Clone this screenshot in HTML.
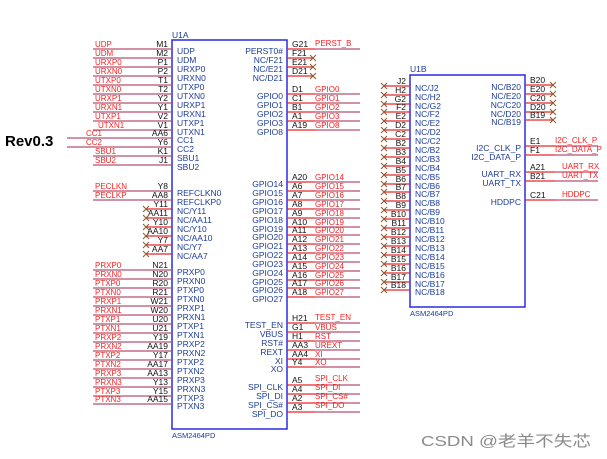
<!DOCTYPE html>
<html><head><meta charset="utf-8"><style>
html,body{margin:0;padding:0;background:#fff;}
svg{display:block;font-family:"Liberation Sans","Noto Sans CJK SC",sans-serif;}
.p{font-size:8.5px;fill:#111;}
.pe{font-size:8.5px;fill:#111;text-anchor:end;}
.i{font-size:8.5px;fill:#1c3c9c;}
.ie{font-size:8.5px;fill:#1c3c9c;text-anchor:end;}
.n{font-size:8px;fill:#ff2020;}
.wl{stroke:#b5506e;stroke-width:1.2;}
.wr{stroke:#e8262a;stroke-width:1.2;}
.x{stroke:#8b5a2b;stroke-width:1;}
.box{fill:none;stroke:#2a2ae0;stroke-width:1.5;}
</style></head><body>
<svg width="607" height="459" viewBox="0 0 607 459" xmlns="http://www.w3.org/2000/svg">
<rect width="607" height="459" fill="#fff"/>
<text x="5" y="146" style="font-size:15px;font-weight:bold;fill:#000">Rev0.3</text>

<!-- U1A -->
<text x="172" y="38" class="i" style="fill:#1c3c9c">U1A</text>
<rect x="172" y="40" width="115" height="389" class="box"/>
<text x="172" y="438" class="i" style="font-size:7.5px">ASM2464PD</text>

<!-- U1A left group 1 -->
<g>
<line x1="93" y1="49" x2="172" y2="49" class="wl"/><text x="95" y="47" class="n">UDP</text><text x="168" y="47" class="pe">M1</text><text x="177" y="54" class="i">UDP</text>
<line x1="93" y1="58" x2="172" y2="58" class="wl"/><text x="95" y="56" class="n">UDM</text><text x="168" y="56" class="pe">M2</text><text x="177" y="63" class="i">UDM</text>
<line x1="93" y1="67" x2="172" y2="67" class="wl"/><text x="95" y="65" class="n">URXP0</text><text x="168" y="65" class="pe">P1</text><text x="177" y="72" class="i">URXP0</text>
<line x1="93" y1="76" x2="172" y2="76" class="wl"/><text x="95" y="74" class="n">URXN0</text><text x="168" y="74" class="pe">P2</text><text x="177" y="81" class="i">URXN0</text>
<line x1="93" y1="85" x2="172" y2="85" class="wl"/><text x="95" y="83" class="n">UTXP0</text><text x="168" y="83" class="pe">T1</text><text x="177" y="90" class="i">UTXP0</text>
<line x1="93" y1="94" x2="172" y2="94" class="wl"/><text x="95" y="92" class="n">UTXN0</text><text x="168" y="92" class="pe">T2</text><text x="177" y="99" class="i">UTXN0</text>
<line x1="93" y1="103" x2="172" y2="103" class="wl"/><text x="95" y="101" class="n">URXP1</text><text x="168" y="101" class="pe">Y2</text><text x="177" y="108" class="i">URXP1</text>
<line x1="93" y1="112" x2="172" y2="112" class="wl"/><text x="95" y="110" class="n">URXN1</text><text x="168" y="110" class="pe">Y1</text><text x="177" y="117" class="i">URXN1</text>
<line x1="93" y1="121" x2="172" y2="121" class="wl"/><text x="95" y="119" class="n">UTXP1</text><text x="168" y="119" class="pe">V2</text><text x="177" y="126" class="i">UTXP1</text>
<line x1="93" y1="130" x2="172" y2="130" class="wl"/><text x="98" y="128" class="n">UTXN1</text><text x="168" y="128" class="pe">V1</text><text x="177" y="135" class="i">UTXN1</text>
<line x1="67" y1="138" x2="172" y2="138" class="wl"/><text x="86" y="136" class="n">CC1</text><text x="168" y="136" class="pe">AA6</text><text x="177" y="143" class="i">CC1</text>
<line x1="67" y1="147" x2="172" y2="147" class="wl"/><text x="86" y="145" class="n">CC2</text><text x="168" y="145" class="pe">Y6</text><text x="177" y="152" class="i">CC2</text>
<line x1="93" y1="156" x2="172" y2="156" class="wl"/><text x="95" y="154" class="n">SBU1</text><text x="168" y="154" class="pe">K1</text><text x="177" y="161" class="i">SBU1</text>
<line x1="93" y1="165" x2="172" y2="165" class="wl"/><text x="95" y="163" class="n">SBU2</text><text x="168" y="163" class="pe">J1</text><text x="177" y="170" class="i">SBU2</text>
</g>

<!-- group 2 -->
<g>
<line x1="93" y1="191" x2="172" y2="191" class="wl"/><text x="95" y="189" class="n">PECLKN</text><text x="168" y="189" class="pe">Y8</text><text x="177" y="196" class="i">REFCLKN0</text>
<line x1="93" y1="200" x2="172" y2="200" class="wl"/><text x="95" y="198" class="n">PECLKP</text><text x="168" y="198" class="pe">AA8</text><text x="177" y="205" class="i">REFCLKP0</text>
<line x1="146" y1="209" x2="172" y2="209" class="wr"/><text x="168" y="207" class="pe">Y11</text><text x="177" y="214" class="i">NC/Y11</text><path d="M143 206l6 6M149 206l-6 6" class="x"/>
<line x1="146" y1="218" x2="172" y2="218" class="wr"/><text x="168" y="216" class="pe">AA11</text><text x="177" y="223" class="i">NC/AA11</text><path d="M143 215l6 6M149 215l-6 6" class="x"/>
<line x1="146" y1="227" x2="172" y2="227" class="wr"/><text x="168" y="225" class="pe">Y10</text><text x="177" y="232" class="i">NC/Y10</text><path d="M143 224l6 6M149 224l-6 6" class="x"/>
<line x1="146" y1="236" x2="172" y2="236" class="wr"/><text x="168" y="234" class="pe">AA10</text><text x="177" y="241" class="i">NC/AA10</text><path d="M143 233l6 6M149 233l-6 6" class="x"/>
<line x1="146" y1="245" x2="172" y2="245" class="wr"/><text x="168" y="243" class="pe">Y7</text><text x="177" y="250" class="i">NC/Y7</text><path d="M143 242l6 6M149 242l-6 6" class="x"/>
<line x1="146" y1="254" x2="172" y2="254" class="wr"/><text x="168" y="252" class="pe">AA7</text><text x="177" y="259" class="i">NC/AA7</text><path d="M143 251l6 6M149 251l-6 6" class="x"/>
</g>

<!-- group 3 -->
<g>
<line x1="93" y1="270" x2="172" y2="270" class="wl"/><text x="95" y="268" class="n">PRXP0</text><text x="168" y="268" class="pe">N21</text><text x="177" y="275" class="i">PRXP0</text>
<line x1="93" y1="279" x2="172" y2="279" class="wl"/><text x="95" y="277" class="n">PRXN0</text><text x="168" y="277" class="pe">N20</text><text x="177" y="284" class="i">PRXN0</text>
<line x1="93" y1="288" x2="172" y2="288" class="wl"/><text x="95" y="286" class="n">PTXP0</text><text x="168" y="286" class="pe">R20</text><text x="177" y="293" class="i">PTXP0</text>
<line x1="93" y1="297" x2="172" y2="297" class="wl"/><text x="95" y="295" class="n">PTXN0</text><text x="168" y="295" class="pe">R21</text><text x="177" y="302" class="i">PTXN0</text>
<line x1="93" y1="306" x2="172" y2="306" class="wl"/><text x="95" y="304" class="n">PRXP1</text><text x="168" y="304" class="pe">W21</text><text x="177" y="311" class="i">PRXP1</text>
<line x1="93" y1="315" x2="172" y2="315" class="wl"/><text x="95" y="313" class="n">PRXN1</text><text x="168" y="313" class="pe">W20</text><text x="177" y="320" class="i">PRXN1</text>
<line x1="93" y1="324" x2="172" y2="324" class="wl"/><text x="95" y="322" class="n">PTXP1</text><text x="168" y="322" class="pe">U20</text><text x="177" y="329" class="i">PTXP1</text>
<line x1="93" y1="333" x2="172" y2="333" class="wl"/><text x="95" y="331" class="n">PTXN1</text><text x="168" y="331" class="pe">U21</text><text x="177" y="338" class="i">PTXN1</text>
<line x1="93" y1="342" x2="172" y2="342" class="wl"/><text x="95" y="340" class="n">PRXP2</text><text x="168" y="340" class="pe">Y19</text><text x="177" y="347" class="i">PRXP2</text>
<line x1="93" y1="351" x2="172" y2="351" class="wl"/><text x="95" y="349" class="n">PRXN2</text><text x="168" y="349" class="pe">AA19</text><text x="177" y="356" class="i">PRXN2</text>
<line x1="93" y1="360" x2="172" y2="360" class="wl"/><text x="95" y="358" class="n">PTXP2</text><text x="168" y="358" class="pe">Y17</text><text x="177" y="365" class="i">PTXP2</text>
<line x1="93" y1="369" x2="172" y2="369" class="wl"/><text x="95" y="367" class="n">PTXN2</text><text x="168" y="367" class="pe">AA17</text><text x="177" y="374" class="i">PTXN2</text>
<line x1="93" y1="378" x2="172" y2="378" class="wl"/><text x="95" y="376" class="n">PRXP3</text><text x="168" y="376" class="pe">AA13</text><text x="177" y="383" class="i">PRXP3</text>
<line x1="93" y1="387" x2="172" y2="387" class="wl"/><text x="95" y="385" class="n">PRXN3</text><text x="168" y="385" class="pe">Y13</text><text x="177" y="392" class="i">PRXN3</text>
<line x1="93" y1="396" x2="172" y2="396" class="wl"/><text x="95" y="394" class="n">PTXP3</text><text x="168" y="394" class="pe">Y15</text><text x="177" y="401" class="i">PTXP3</text>
<line x1="93" y1="404" x2="172" y2="404" class="wl"/><text x="95" y="402" class="n">PTXN3</text><text x="168" y="402" class="pe">AA15</text><text x="177" y="409" class="i">PTXN3</text>
</g>

<!-- U1A right -->
<g>
<line x1="287" y1="49" x2="315" y2="49" class="wr"/><line x1="315" y1="49" x2="360" y2="49" class="wl"/><text x="292" y="47" class="p">G21</text><text x="315" y="46" class="n">PERST_B</text><text x="283" y="54" class="ie">PERST0#</text>
<line x1="287" y1="58" x2="313" y2="58" class="wr"/><text x="292" y="56" class="p">F21</text><text x="283" y="63" class="ie">NC/F21</text><path d="M310 55l6 6M316 55l-6 6" class="x"/>
<line x1="287" y1="67" x2="313" y2="67" class="wr"/><text x="292" y="65" class="p">E21</text><text x="283" y="72" class="ie">NC/E21</text><path d="M310 64l6 6M316 64l-6 6" class="x"/>
<line x1="287" y1="76" x2="313" y2="76" class="wr"/><text x="292" y="74" class="p">D21</text><text x="283" y="81" class="ie">NC/D21</text><path d="M310 73l6 6M316 73l-6 6" class="x"/>

<line x1="287" y1="94" x2="315" y2="94" class="wr"/><line x1="315" y1="94" x2="360" y2="94" class="wl"/><text x="292" y="92" class="p">D1</text><text x="315" y="92" class="n">GPIO0</text><text x="283" y="99" class="ie">GPIO0</text>
<line x1="287" y1="103" x2="315" y2="103" class="wr"/><line x1="315" y1="103" x2="360" y2="103" class="wl"/><text x="292" y="101" class="p">C1</text><text x="315" y="101" class="n">GPIO1</text><text x="283" y="108" class="ie">GPIO1</text>
<line x1="287" y1="112" x2="315" y2="112" class="wr"/><line x1="315" y1="112" x2="360" y2="112" class="wl"/><text x="292" y="110" class="p">B1</text><text x="315" y="110" class="n">GPIO2</text><text x="283" y="117" class="ie">GPIO2</text>
<line x1="287" y1="121" x2="315" y2="121" class="wr"/><line x1="315" y1="121" x2="360" y2="121" class="wl"/><text x="292" y="119" class="p">A1</text><text x="315" y="119" class="n">GPIO3</text><text x="283" y="126" class="ie">GPIO3</text>
<line x1="287" y1="130" x2="315" y2="130" class="wr"/><line x1="315" y1="130" x2="360" y2="130" class="wl"/><text x="292" y="128" class="p">A19</text><text x="315" y="128" class="n">GPIO8</text><text x="283" y="135" class="ie">GPIO8</text>

<line x1="287" y1="182" x2="315" y2="182" class="wr"/><line x1="315" y1="182" x2="360" y2="182" class="wl"/><text x="292" y="180" class="p">A20</text><text x="315" y="180" class="n">GPIO14</text><text x="283" y="187" class="ie">GPIO14</text>
<line x1="287" y1="191" x2="315" y2="191" class="wr"/><line x1="315" y1="191" x2="360" y2="191" class="wl"/><text x="292" y="189" class="p">A6</text><text x="315" y="189" class="n">GPIO15</text><text x="283" y="196" class="ie">GPIO15</text>
<line x1="287" y1="200" x2="315" y2="200" class="wr"/><line x1="315" y1="200" x2="360" y2="200" class="wl"/><text x="292" y="198" class="p">A7</text><text x="315" y="198" class="n">GPIO16</text><text x="283" y="205" class="ie">GPIO16</text>
<line x1="287" y1="209" x2="315" y2="209" class="wr"/><line x1="315" y1="209" x2="360" y2="209" class="wl"/><text x="292" y="207" class="p">A8</text><text x="315" y="207" class="n">GPIO17</text><text x="283" y="214" class="ie">GPIO17</text>
<line x1="287" y1="218" x2="315" y2="218" class="wr"/><line x1="315" y1="218" x2="360" y2="218" class="wl"/><text x="292" y="216" class="p">A9</text><text x="315" y="216" class="n">GPIO18</text><text x="283" y="223" class="ie">GPIO18</text>
<line x1="287" y1="227" x2="315" y2="227" class="wr"/><line x1="315" y1="227" x2="360" y2="227" class="wl"/><text x="292" y="225" class="p">A10</text><text x="315" y="225" class="n">GPIO19</text><text x="283" y="232" class="ie">GPIO19</text>
<line x1="287" y1="235" x2="315" y2="235" class="wr"/><line x1="315" y1="235" x2="360" y2="235" class="wl"/><text x="292" y="233" class="p">A11</text><text x="315" y="233" class="n">GPIO20</text><text x="283" y="240" class="ie">GPIO20</text>
<line x1="287" y1="244" x2="315" y2="244" class="wr"/><line x1="315" y1="244" x2="360" y2="244" class="wl"/><text x="292" y="242" class="p">A12</text><text x="315" y="242" class="n">GPIO21</text><text x="283" y="249" class="ie">GPIO21</text>
<line x1="287" y1="253" x2="315" y2="253" class="wr"/><line x1="315" y1="253" x2="360" y2="253" class="wl"/><text x="292" y="251" class="p">A13</text><text x="315" y="251" class="n">GPIO22</text><text x="283" y="258" class="ie">GPIO22</text>
<line x1="287" y1="262" x2="315" y2="262" class="wr"/><line x1="315" y1="262" x2="360" y2="262" class="wl"/><text x="292" y="260" class="p">A14</text><text x="315" y="260" class="n">GPIO23</text><text x="283" y="267" class="ie">GPIO23</text>
<line x1="287" y1="271" x2="315" y2="271" class="wr"/><line x1="315" y1="271" x2="360" y2="271" class="wl"/><text x="292" y="269" class="p">A15</text><text x="315" y="269" class="n">GPIO24</text><text x="283" y="276" class="ie">GPIO24</text>
<line x1="287" y1="280" x2="315" y2="280" class="wr"/><line x1="315" y1="280" x2="360" y2="280" class="wl"/><text x="292" y="278" class="p">A16</text><text x="315" y="278" class="n">GPIO25</text><text x="283" y="285" class="ie">GPIO25</text>
<line x1="287" y1="288" x2="315" y2="288" class="wr"/><line x1="315" y1="288" x2="360" y2="288" class="wl"/><text x="292" y="286" class="p">A17</text><text x="315" y="286" class="n">GPIO26</text><text x="283" y="293" class="ie">GPIO26</text>
<line x1="287" y1="297" x2="315" y2="297" class="wr"/><line x1="315" y1="297" x2="360" y2="297" class="wl"/><text x="292" y="295" class="p">A18</text><text x="315" y="295" class="n">GPIO27</text><text x="283" y="302" class="ie">GPIO27</text>

<line x1="287" y1="323" x2="315" y2="323" class="wr"/><line x1="315" y1="323" x2="360" y2="323" class="wl"/><text x="292" y="321" class="p">H21</text><text x="315" y="320" class="n">TEST_EN</text><text x="283" y="328" class="ie">TEST_EN</text>
<line x1="287" y1="332" x2="315" y2="332" class="wr"/><line x1="315" y1="332" x2="360" y2="332" class="wl"/><text x="292" y="330" class="p">G1</text><text x="315" y="330" class="n">VBUS</text><text x="283" y="337" class="ie">VBUS</text>
<line x1="287" y1="341" x2="315" y2="341" class="wr"/><line x1="315" y1="341" x2="360" y2="341" class="wl"/><text x="292" y="339" class="p">H1</text><text x="315" y="339" class="n">RST</text><text x="283" y="346" class="ie">RST#</text>
<line x1="287" y1="350" x2="315" y2="350" class="wr"/><line x1="315" y1="350" x2="360" y2="350" class="wl"/><text x="292" y="348" class="p">AA3</text><text x="315" y="348" class="n">UREXT</text><text x="283" y="355" class="ie">REXT</text>
<line x1="287" y1="359" x2="315" y2="359" class="wr"/><line x1="315" y1="359" x2="360" y2="359" class="wl"/><text x="292" y="357" class="p">AA4</text><text x="315" y="357" class="n">XI</text><text x="283" y="364" class="ie">XI</text>
<line x1="287" y1="367" x2="315" y2="367" class="wr"/><line x1="315" y1="367" x2="360" y2="367" class="wl"/><text x="292" y="365" class="p">Y4</text><text x="315" y="365" class="n">XO</text><text x="283" y="372" class="ie">XO</text>

<line x1="287" y1="385" x2="315" y2="385" class="wr"/><line x1="315" y1="385" x2="360" y2="385" class="wl"/><text x="292" y="383" class="p">A5</text><text x="315" y="381" class="n">SPI_CLK</text><text x="283" y="390" class="ie">SPI_CLK</text>
<line x1="287" y1="394" x2="315" y2="394" class="wr"/><line x1="315" y1="394" x2="360" y2="394" class="wl"/><text x="292" y="392" class="p">A4</text><text x="315" y="390" class="n">SPI_DI</text><text x="283" y="399" class="ie">SPI_DI</text>
<line x1="287" y1="403" x2="315" y2="403" class="wr"/><line x1="315" y1="403" x2="360" y2="403" class="wl"/><text x="292" y="401" class="p">A2</text><text x="315" y="399" class="n">SPI_CS#</text><text x="283" y="408" class="ie">SPI_CS#</text>
<line x1="287" y1="412" x2="315" y2="412" class="wr"/><line x1="315" y1="412" x2="360" y2="412" class="wl"/><text x="292" y="410" class="p">A3</text><text x="315" y="408" class="n">SPI_DO</text><text x="283" y="417" class="ie">SPI_DO</text>
</g>

<!-- U1B -->
<text x="410" y="72" class="i">U1B</text>
<rect x="410" y="75" width="115" height="232" class="box"/>
<text x="410" y="316" class="i" style="font-size:7.5px">ASM2464PD</text>
<g>
<line x1="384" y1="86" x2="410" y2="86" class="wr"/><text x="406" y="84" class="pe">J2</text><text x="415" y="91" class="i">NC/J2</text><path d="M381 83l6 6M387 83l-6 6" class="x"/>
<line x1="384" y1="95" x2="410" y2="95" class="wr"/><text x="406" y="93" class="pe">H2</text><text x="415" y="100" class="i">NC/H2</text><path d="M381 92l6 6M387 92l-6 6" class="x"/>
<line x1="384" y1="104" x2="410" y2="104" class="wr"/><text x="406" y="102" class="pe">G2</text><text x="415" y="109" class="i">NC/G2</text><path d="M381 101l6 6M387 101l-6 6" class="x"/>
<line x1="384" y1="112" x2="410" y2="112" class="wr"/><text x="406" y="110" class="pe">F2</text><text x="415" y="117" class="i">NC/F2</text><path d="M381 109l6 6M387 109l-6 6" class="x"/>
<line x1="384" y1="121" x2="410" y2="121" class="wr"/><text x="406" y="119" class="pe">E2</text><text x="415" y="126" class="i">NC/E2</text><path d="M381 118l6 6M387 118l-6 6" class="x"/>
<line x1="384" y1="130" x2="410" y2="130" class="wr"/><text x="406" y="128" class="pe">D2</text><text x="415" y="135" class="i">NC/D2</text><path d="M381 127l6 6M387 127l-6 6" class="x"/>
<line x1="384" y1="139" x2="410" y2="139" class="wr"/><text x="406" y="137" class="pe">C2</text><text x="415" y="144" class="i">NC/C2</text><path d="M381 136l6 6M387 136l-6 6" class="x"/>
<line x1="384" y1="148" x2="410" y2="148" class="wr"/><text x="406" y="146" class="pe">B2</text><text x="415" y="153" class="i">NC/B2</text><path d="M381 145l6 6M387 145l-6 6" class="x"/>
<line x1="384" y1="157" x2="410" y2="157" class="wr"/><text x="406" y="155" class="pe">B3</text><text x="415" y="162" class="i">NC/B3</text><path d="M381 154l6 6M387 154l-6 6" class="x"/>
<line x1="384" y1="166" x2="410" y2="166" class="wr"/><text x="406" y="164" class="pe">B4</text><text x="415" y="171" class="i">NC/B4</text><path d="M381 163l6 6M387 163l-6 6" class="x"/>
<line x1="384" y1="175" x2="410" y2="175" class="wr"/><text x="406" y="173" class="pe">B5</text><text x="415" y="180" class="i">NC/B5</text><path d="M381 172l6 6M387 172l-6 6" class="x"/>
<line x1="384" y1="184" x2="410" y2="184" class="wr"/><text x="406" y="182" class="pe">B6</text><text x="415" y="189" class="i">NC/B6</text><path d="M381 181l6 6M387 181l-6 6" class="x"/>
<line x1="384" y1="192" x2="410" y2="192" class="wr"/><text x="406" y="190" class="pe">B7</text><text x="415" y="197" class="i">NC/B7</text><path d="M381 189l6 6M387 189l-6 6" class="x"/>
<line x1="384" y1="201" x2="410" y2="201" class="wr"/><text x="406" y="199" class="pe">B8</text><text x="415" y="206" class="i">NC/B8</text><path d="M381 198l6 6M387 198l-6 6" class="x"/>
<line x1="384" y1="210" x2="410" y2="210" class="wr"/><text x="406" y="208" class="pe">B9</text><text x="415" y="215" class="i">NC/B9</text><path d="M381 207l6 6M387 207l-6 6" class="x"/>
<line x1="384" y1="219" x2="410" y2="219" class="wr"/><text x="406" y="217" class="pe">B10</text><text x="415" y="224" class="i">NC/B10</text><path d="M381 216l6 6M387 216l-6 6" class="x"/>
<line x1="384" y1="228" x2="410" y2="228" class="wr"/><text x="406" y="226" class="pe">B11</text><text x="415" y="233" class="i">NC/B11</text><path d="M381 225l6 6M387 225l-6 6" class="x"/>
<line x1="384" y1="237" x2="410" y2="237" class="wr"/><text x="406" y="235" class="pe">B12</text><text x="415" y="242" class="i">NC/B12</text><path d="M381 234l6 6M387 234l-6 6" class="x"/>
<line x1="384" y1="246" x2="410" y2="246" class="wr"/><text x="406" y="244" class="pe">B13</text><text x="415" y="251" class="i">NC/B13</text><path d="M381 243l6 6M387 243l-6 6" class="x"/>
<line x1="384" y1="255" x2="410" y2="255" class="wr"/><text x="406" y="253" class="pe">B14</text><text x="415" y="260" class="i">NC/B14</text><path d="M381 252l6 6M387 252l-6 6" class="x"/>
<line x1="384" y1="264" x2="410" y2="264" class="wr"/><text x="406" y="262" class="pe">B15</text><text x="415" y="269" class="i">NC/B15</text><path d="M381 261l6 6M387 261l-6 6" class="x"/>
<line x1="384" y1="273" x2="410" y2="273" class="wr"/><text x="406" y="271" class="pe">B16</text><text x="415" y="278" class="i">NC/B16</text><path d="M381 270l6 6M387 270l-6 6" class="x"/>
<line x1="384" y1="282" x2="410" y2="282" class="wr"/><text x="406" y="280" class="pe">B17</text><text x="415" y="287" class="i">NC/B17</text><path d="M381 279l6 6M387 279l-6 6" class="x"/>
<line x1="384" y1="290" x2="410" y2="290" class="wr"/><text x="406" y="288" class="pe">B18</text><text x="415" y="295" class="i">NC/B18</text><path d="M381 287l6 6M387 287l-6 6" class="x"/>
</g>
<g>
<line x1="525" y1="85" x2="553" y2="85" class="wr"/><text x="530" y="83" class="p">B20</text><text x="521" y="90" class="ie">NC/B20</text><path d="M550 82l6 6M556 82l-6 6" class="x"/>
<line x1="525" y1="94" x2="553" y2="94" class="wr"/><text x="530" y="92" class="p">E20</text><text x="521" y="99" class="ie">NC/E20</text><path d="M550 91l6 6M556 91l-6 6" class="x"/>
<line x1="525" y1="103" x2="553" y2="103" class="wr"/><text x="530" y="101" class="p">C20</text><text x="521" y="108" class="ie">NC/C20</text><path d="M550 100l6 6M556 100l-6 6" class="x"/>
<line x1="525" y1="112" x2="553" y2="112" class="wr"/><text x="530" y="110" class="p">D20</text><text x="521" y="117" class="ie">NC/D20</text><path d="M550 109l6 6M556 109l-6 6" class="x"/>
<line x1="525" y1="120" x2="553" y2="120" class="wr"/><text x="530" y="118" class="p">B19</text><text x="521" y="125" class="ie">NC/B19</text><path d="M550 117l6 6M556 117l-6 6" class="x"/>

<line x1="525" y1="146" x2="555" y2="146" class="wr"/><line x1="555" y1="146" x2="598" y2="146" class="wl"/><text x="530" y="144" class="p">E1</text><text x="555" y="143" class="n">I2C_CLK_P</text><text x="521" y="151" class="ie">I2C_CLK_P</text>
<line x1="525" y1="155" x2="555" y2="155" class="wr"/><line x1="555" y1="155" x2="598" y2="155" class="wl"/><text x="530" y="153" class="p">F1</text><text x="555" y="152" class="n">I2C_DATA_P</text><text x="521" y="160" class="ie">I2C_DATA_P</text>
<line x1="525" y1="172" x2="555" y2="172" class="wr"/><line x1="555" y1="172" x2="598" y2="172" class="wl"/><text x="530" y="170" class="p">A21</text><text x="562" y="169" class="n">UART_RX</text><text x="521" y="177" class="ie">UART_RX</text>
<line x1="525" y1="181" x2="555" y2="181" class="wr"/><line x1="555" y1="181" x2="598" y2="181" class="wl"/><text x="530" y="179" class="p">B21</text><text x="562" y="178" class="n">UART_TX</text><text x="521" y="186" class="ie">UART_TX</text>
<line x1="525" y1="200" x2="555" y2="200" class="wr"/><line x1="555" y1="200" x2="598" y2="200" class="wl"/><text x="530" y="198" class="p">C21</text><text x="562" y="197" class="n">HDDPC</text><text x="521" y="205" class="ie">HDDPC</text>
</g>

<text x="421" y="446" textLength="170" lengthAdjust="spacingAndGlyphs" style="font-size:15px;fill:#8a8a8a">CSDN @老羊不失芯</text>
</svg>
</body></html>
